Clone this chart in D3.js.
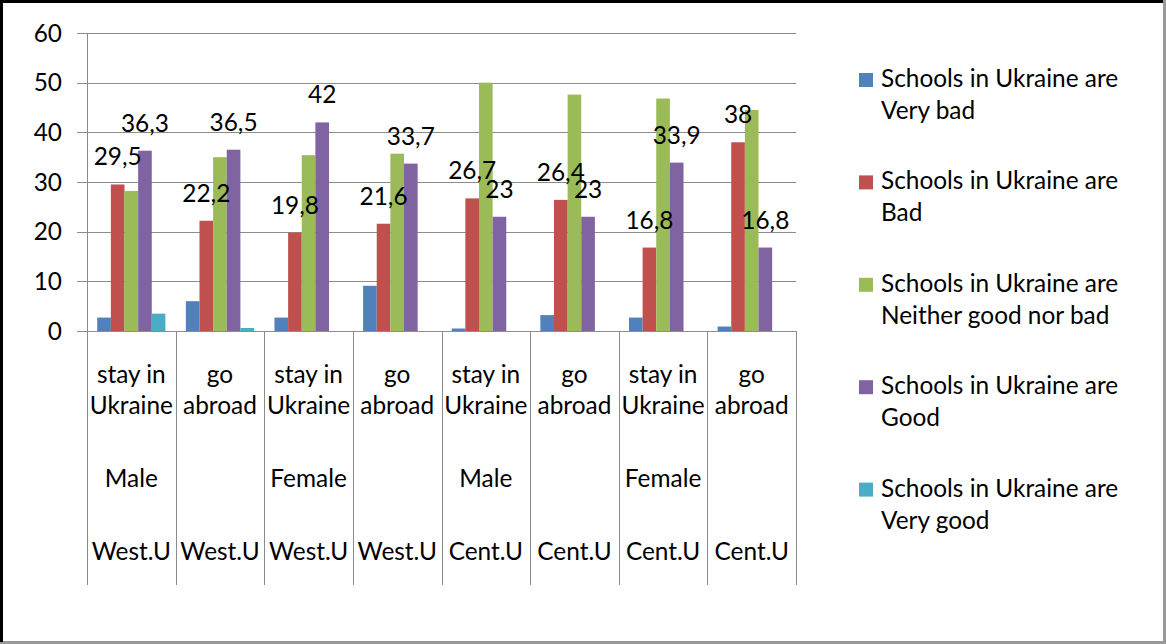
<!DOCTYPE html>
<html>
<head>
<meta charset="utf-8">
<script src="https://cdn.jsdelivr.net/npm/d3@7"></script>
<style>
  body { margin: 0; background: #fff; }
  text { font-family: Lato, "Open Sans", sans-serif; fill: #000; }
</style>
</head>
<body>
<div id="chart"></div>
<script>
var width = 1166;
var height = 644;
var fontSize = "24.4px";

// category labels (4 text rows under each column)
var line1 = ["stay in", "go", "stay in", "go", "stay in", "go", "stay in", "go"];
var line2 = ["Ukraine", "abroad", "Ukraine", "abroad", "Ukraine", "abroad", "Ukraine", "abroad"];
var gender = ["Male", "", "Female", "", "Male", "", "Female", ""];
var region = ["West.U", "West.U", "West.U", "West.U", "Cent.U", "Cent.U", "Cent.U", "Cent.U"];

var seriesNames = [
  "Schools in Ukraine are Very bad",
  "Schools in Ukraine are Bad",
  "Schools in Ukraine are Neither good nor bad",
  "Schools in Ukraine are Good",
  "Schools in Ukraine are Very good"
];
var colors = ["#4f81bd", "#c0504d", "#9bbb59", "#8064a2", "#4bacc6"];

var veryBad = [2.7, 6.0, 2.7, 9.1, 0.5, 3.2, 2.7, 0.9];
var bad = [29.5, 22.2, 19.8, 21.6, 26.7, 26.4, 16.8, 38];
var neither = [28.2, 35.0, 35.4, 35.7, 50.0, 47.6, 46.8, 44.5];
var good = [36.3, 36.5, 42, 33.7, 23, 23, 33.9, 16.8];
var veryGood = [3.5, 0.6, 0, 0, 0, 0, 0, 0];

var yTicks = [0, 10, 20, 30, 40, 50, 60];
var labelled = [false, true, false, true, false]; // only Bad and Good carry data labels

var seriesValues = [veryBad, bad, neither, good, veryGood];
var cats = d3.range(line1.length);

var svg = d3.select("#chart").append("svg")
  .attr("width", width)
  .attr("height", height);

// chart frame
svg.append("rect")
  .attr("x", 1.5).attr("y", 1.5)
  .attr("width", width - 3).attr("height", height - 3)
  .attr("fill", "#fff")
  .attr("stroke", "#999")
  .attr("stroke-width", 3);
svg.append("path")
  .attr("d", "M1.5," + (height - 2) + "V1.5H" + (width - 3))
  .attr("fill", "none")
  .attr("stroke", "#000")
  .attr("stroke-width", 3);

var x0 = d3.scaleBand().domain(cats).range([87, 796]);
var x1 = d3.scaleBand().domain(d3.range(seriesNames.length))
  .range([0, x0.bandwidth()])
  .paddingInner(0)
  .paddingOuter(0.75);
var y = d3.scaleLinear().domain([0, 60]).range([331, 33]);

// gridlines
svg.append("g")
  .selectAll("line")
  .data(yTicks)
  .enter().append("line")
  .attr("x1", 77).attr("x2", 796)
  .attr("y1", d => Math.round(y(d)) + 0.5)
  .attr("y2", d => Math.round(y(d)) + 0.5)
  .attr("stroke", "#8c8c8c")
  .attr("stroke-width", 1);

svg.append("g")
  .selectAll("text")
  .data(yTicks)
  .enter().append("text")
  .attr("x", 62)
  .attr("y", d => y(d))
  .attr("dy", "0.35em")
  .attr("text-anchor", "end")
  .style("font-size", fontSize)
  .text(d => d);

// bars
var groups = svg.append("g")
  .selectAll("g")
  .data(seriesValues)
  .enter().append("g")
  .attr("fill", (d, i) => colors[i]);

groups.selectAll("rect")
  .data((vals, s) => vals.map((v, c) => ({ s: s, c: c, v: v })))
  .enter().append("rect")
  .attr("x", d => x0(d.c) + x1(d.s))
  .attr("width", x1.bandwidth())
  .attr("y", d => y(d.v))
  .attr("height", d => y(0) - y(d.v));

// axis lines and category separators
svg.append("line")
  .attr("x1", 87.5).attr("x2", 87.5)
  .attr("y1", 33).attr("y2", 585)
  .attr("stroke", "#8c8c8c");
svg.append("g")
  .selectAll("line")
  .data(cats.concat([cats.length]))
  .enter().append("line")
  .attr("x1", d => Math.round(87 + d * x0.step()) + 0.5)
  .attr("x2", d => Math.round(87 + d * x0.step()) + 0.5)
  .attr("y1", 331).attr("y2", 585)
  .attr("stroke", "#8c8c8c");

// data labels (they overlap in group 5 and 6 in the original too)
var labelData = [];
seriesValues.forEach(function(vals, s) {
  if (!labelled[s]) return;
  vals.forEach(function(v, c) { labelData.push({ s: s, c: c, v: v }); });
});
svg.append("g")
  .selectAll("text")
  .data(labelData)
  .enter().append("text")
  .attr("x", d => x0(d.c) + x1(d.s) + x1.bandwidth() / 2)
  .attr("y", d => y(d.v) - 19)
  .attr("text-anchor", "middle")
  .style("font-size", fontSize)
  .text(d => String(d.v).replace(".", ","));

// category labels
var rows = [[line1, 383], [line2, 414], [gender, 487], [region, 560]];
rows.forEach(function(r) {
  svg.append("g")
    .selectAll("text")
    .data(r[0])
    .enter().append("text")
    .attr("x", (d, i) => x0(i) + x0.bandwidth() / 2)
    .attr("y", r[1])
    .attr("text-anchor", "middle")
    .style("font-size", fontSize)
    .text(d => d);
});

// legend
var legend = svg.append("g")
  .selectAll("g")
  .data(seriesNames)
  .enter().append("g")
  .attr("transform", (d, i) => "translate(859," + (73 + i * 102.4) + ")");
legend.append("rect")
  .attr("width", 14).attr("height", 14)
  .attr("fill", (d, i) => colors[i]);
legend.append("text")
  .attr("x", 22).attr("y", 14)
  .style("font-size", fontSize)
  .text(d => d.split(" are ")[0] + " are");
legend.append("text")
  .attr("x", 22).attr("y", 46)
  .style("font-size", fontSize)
  .text(d => d.split(" are ")[1]);
</script>
</body>
</html>
